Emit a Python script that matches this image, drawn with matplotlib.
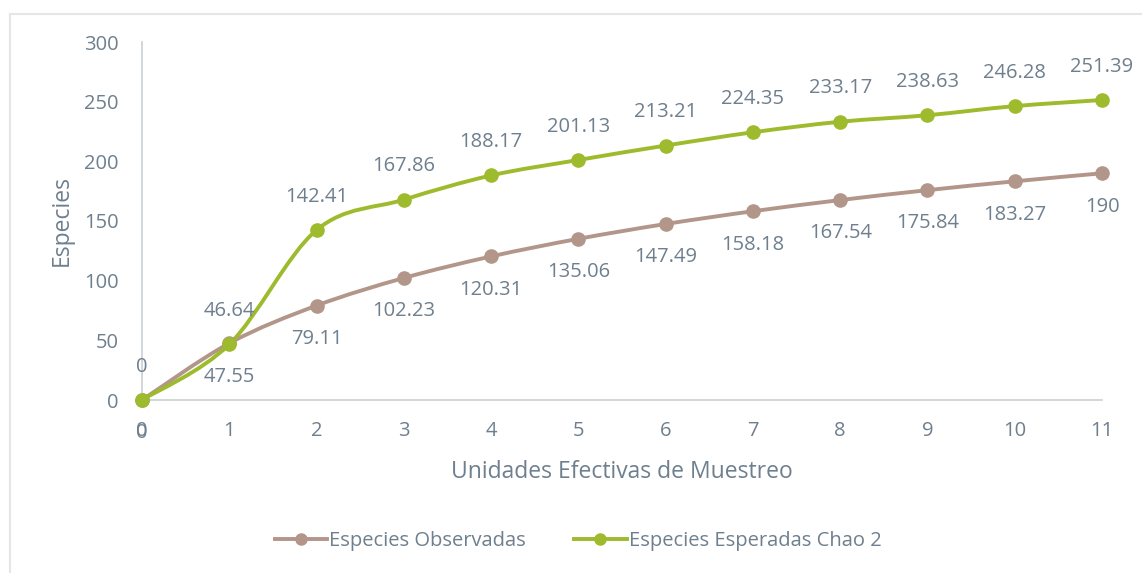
import matplotlib
matplotlib.use("Agg")
import matplotlib.pyplot as plt
from matplotlib.path import Path
from matplotlib.patches import PathPatch
from matplotlib.lines import Line2D
import numpy as np

x_units = [0, 1, 2, 3, 4, 5, 6, 7, 8, 9, 10, 11]
observadas = [0, 47.55, 79.11, 102.23, 120.31, 135.06, 147.49, 158.18, 167.54, 175.84, 183.27, 190]
chao2 = [0, 46.64, 142.41, 167.86, 188.17, 201.13, 213.21, 224.35, 233.17, 238.63, 246.28, 251.39]
series_names = ["Especies Observadas", "Especies Esperadas Chao 2"]
y_ticks = [0, 50, 100, 150, 200, 250, 300]

c_obs = "#B3968A"
c_chao = "#9DBB2C"
txt = "#6E7F8E"
axis_c = "#C9D0D6"

plt.rcParams['font.family'] = ['Open Sans', 'DejaVu Sans']

fig = plt.figure(figsize=(11.42, 5.73), dpi=100)
ax = fig.add_axes([142/1142, 1-400/573, (1102-142)/1142, (400-42)/573])

def smooth_path(xs, ys):
    xs = np.asarray(xs, float); ys = np.asarray(ys, float)
    n = len(xs)
    verts = [(xs[0], ys[0])]
    codes = [Path.MOVETO]
    for i in range(n-1):
        p0 = i-1 if i > 0 else i
        p3 = i+2 if i+2 < n else i+1
        c1 = (xs[i] + (xs[i+1]-xs[p0])/6, ys[i] + (ys[i+1]-ys[p0])/6)
        c2 = (xs[i+1] - (xs[p3]-xs[i])/6, ys[i+1] - (ys[p3]-ys[i])/6)
        verts += [c1, c2, (xs[i+1], ys[i+1])]
        codes += [Path.CURVE4]*3
    return Path(verts, codes)

lab_fs = 14.5
for ys, col, sign in [(observadas, c_obs, -1), (chao2, c_chao, 1)]:
    ax.add_patch(PathPatch(smooth_path(x_units, ys), fill=False, edgecolor=col, lw=2.8, zorder=2))
    ax.plot(x_units, ys, 'o', color=col, ms=9.5, zorder=3)
    for xv, yv in zip(x_units, ys):
        ax.annotate(f"{yv:g}", (xv, yv), xytext=(0, sign*24), textcoords='offset points',
                    ha='center', va='center', fontsize=lab_fs, color=txt)

ax.set_xlim(0, 11)
ax.set_ylim(0, 300)
ax.set_xticks(x_units)
ax.set_yticks(y_ticks)
ax.tick_params(axis='both', length=0, labelsize=lab_fs, labelcolor=txt)
ax.tick_params(axis='x', pad=15)
ax.tick_params(axis='y', pad=17)
for s in ['top', 'right']:
    ax.spines[s].set_visible(False)
for s in ['left', 'bottom']:
    ax.spines[s].set_color(axis_c)
    ax.spines[s].set_linewidth(1.2)
ax.set_xlabel("Unidades Efectivas de Muestreo", fontsize=16.5, color=txt, labelpad=14)
ax.set_ylabel("Especies", fontsize=16.5, color=txt, labelpad=7)
for a in ax.patches + ax.lines:
    a.set_clip_on(False)

handles = [Line2D([0], [0], color=c_obs, lw=2.8, marker='o', ms=8),
           Line2D([0], [0], color=c_chao, lw=2.8, marker='o', ms=8)]
leg = fig.legend(handles, series_names, loc='center', bbox_to_anchor=(578/1142, 1-541/573),
                 ncol=2, frameon=False, fontsize=14.5, handlelength=2.6, handletextpad=0.1,
                 columnspacing=2.4)
for t in leg.get_texts():
    t.set_color(txt)

fig.add_artist(Line2D([10/1142, 10/1142], [0, 1-14/573], color="#E3E7EA", lw=1.5))
fig.add_artist(Line2D([10/1142, 1], [1-14/573, 1-14/573], color="#E3E7EA", lw=1.5))

fig.savefig("out.png", dpi=100)
